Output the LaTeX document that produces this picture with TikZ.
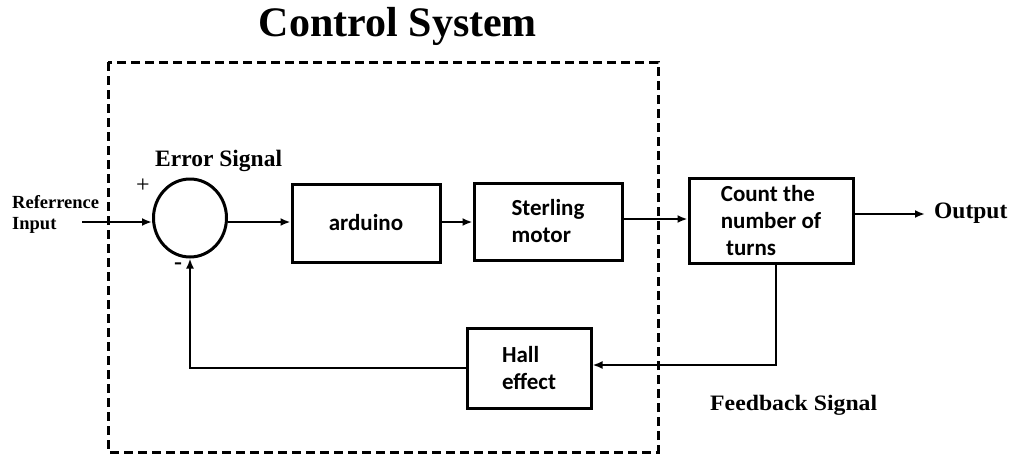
\documentclass[tikz,border=0pt]{standalone}
\usepackage{fontspec}
\setmainfont{Liberation Serif}
\newfontfamily\calib{Carlito}
\usetikzlibrary{arrows.meta,calc,shapes.geometric}
\begin{document}
\begin{tikzpicture}[x=1pt,y=-1pt,
  blk/.style={draw,line width=3pt,minimum width=#1,inner sep=0pt,font=\calib\bfseries\fontsize{23}{27}\selectfont,align=left},
  con/.style={line width=2.8pt,-{Latex[length=10pt,width=8pt]}},
  lbl/.style={font=\bfseries,inner sep=0pt}]
\useasboundingbox (0,0) rectangle (1014,459);
\node[lbl,font=\bfseries\fontsize{42}{44}\selectfont] (title) at (398,26) {Control System};
\draw[line width=3pt,dash pattern=on 9pt off 5pt] (108,62) rectangle (658,452);
\node[draw,ellipse,line width=3pt,minimum width=73pt,minimum height=78pt,inner sep=0pt] (sum) at (190,218) {};
\node[lbl,font=\bfseries\fontsize{23.5}{25}\selectfont,anchor=west] (err) at (155,161) {Error Signal};
\node[lbl,font=\fontsize{24}{24}\selectfont] (plus) at (143,186) {+};
\node[lbl,font=\bfseries\fontsize{24}{24}\selectfont] (minus) at (178,266) {-};
\node[lbl,font=\bfseries\fontsize{18.5}{21}\selectfont,align=left,anchor=west] (ref) at (12,214) {Referrence\\Input};
\coordinate (in) at (82,222);
\node[blk=148pt,minimum height=78pt] (ard) at (366,223) {arduino};
\node[blk=148pt,minimum height=77pt] (ster) at (548,221.5) {Sterling\\motor};
\node[blk=164pt,minimum height=85pt] (cnt) at (771,220.5) {Count the\\number of\\\ turns};
\node[blk=124pt,minimum height=80pt] (hall) at (529,368) {Hall\\effect};
\coordinate (outp) at (925,214);
\node[lbl,font=\bfseries\fontsize{23.5}{25}\selectfont,anchor=west] (out) at (934,213) {Output};
\node[lbl,font=\bfseries\fontsize{22}{24}\selectfont,anchor=west] (fb) at (710,405) {\scalebox{1.08}[1]{Feedback Signal}};
\draw[con] (in) -- (sum.west |- in);
\draw[con] (sum.east |- 0,222) -- (ard.west |- 0,222);
\draw[con] (ard.east |- 0,222) -- (ster.west |- 0,222);
\draw[con] (ster.east |- 0,219) -- (cnt.west |- 0,219);
\draw[con] (cnt.east |- outp) -- (outp);
\draw[con] (cnt.south -| 776,0) |- (hall.east |- 0,365);
\draw[con] (hall.west |- 0,368) -| (sum.south);
\end{tikzpicture}
\end{document}
